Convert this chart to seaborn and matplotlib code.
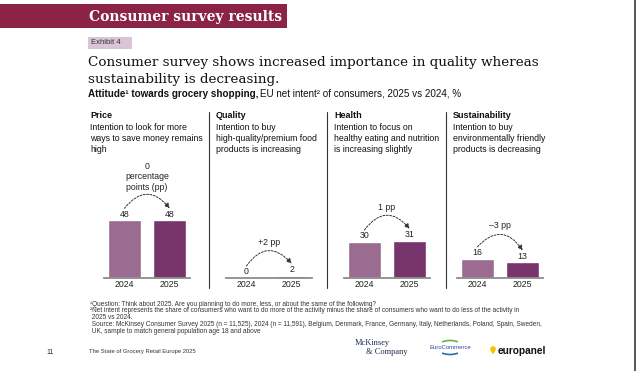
import matplotlib.pyplot as plt
import seaborn as sns
import pandas as pd
from matplotlib.patches import Rectangle, Arc, Circle, Polygon

# -----------------------------
# Data
# -----------------------------
categories = ["Price", "Quality", "Health", "Sustainability"]
descriptions = [
    ["Intention to look for more", "ways to save money remains", "high"],
    ["Intention to buy", "high-quality/premium food", "products is increasing"],
    ["Intention to focus on", "healthy eating and nutrition", "is increasing slightly"],
    ["Intention to buy", "environmentally friendly", "products is decreasing"],
]
years = ["2024", "2025"]
intent_2024 = [48, 0, 30, 16]
intent_2025 = [48, 2, 31, 13]
change_labels = ["0\npercentage\npoints (pp)", "+2 pp", "1 pp", "\u20133 pp"]

footnotes = [
    "\u00b9Question: Think about 2025. Are you planning to do more, less, or about the same of the following?",
    "\u00b2Net intent represents the share of consumers who want to do more of the activity minus the share of consumers who want to do less of the activity in",
    " 2025 vs 2024.",
    " Source: McKinsey Consumer Survey 2025 (n = 11,525), 2024 (n = 11,591), Belgium, Denmark, France, Germany, Italy, Netherlands, Poland, Spain, Sweden,",
    " UK, sample to match general population age 18 and above",
]

bar_colors = {"2024": "#9B6B92", "2025": "#77346D"}

# -----------------------------
# Figure setup
# -----------------------------
sns.set_style("white")
plt.rcParams["font.family"] = ["Liberation Sans", "DejaVu Sans"]

W, H = 640, 371
fig = plt.figure(figsize=(6.4, 3.71), dpi=100)

bg = fig.add_axes([0, 0, 1, 1])
bg.set_xlim(0, W)
bg.set_ylim(H, 0)
bg.axis("off")


def px_axes(left, top, width, height):
    return fig.add_axes([left / W, 1 - (top + height) / H, width / W, height / H])


# -----------------------------
# Header
# -----------------------------
bg.add_patch(Rectangle((0, 4), 287, 24, color="#8B2346", lw=0))
bg.text(89, 16.5, "Consumer survey results", color="white", fontweight="bold",
        family="DejaVu Serif", fontsize=10, va="center")

bg.add_patch(Rectangle((88, 36.5), 44, 12.5, color="#D9C5D6", lw=0))
bg.text(91, 42.8, "Exhibit 4", fontsize=5.5, va="center", color="#333333")

bg.text(88, 62.7, "Consumer survey shows increased importance in quality whereas",
        family="DejaVu Serif", fontsize=9.7, va="center", color="#111111")
bg.text(88, 79.3, "sustainability is decreasing.",
        family="DejaVu Serif", fontsize=9.7, va="center", color="#111111")

sub_bold = bg.text(88, 93.7, "Attitude\u00b9 towards grocery shopping,", fontweight="bold",
                   fontsize=7.1, va="center", color="#111111")
renderer = fig.canvas.get_renderer()
bb = sub_bold.get_window_extent(renderer=renderer)
x_after = bb.x1 / fig.dpi * 100
bg.text(x_after + 2, 93.7, "EU net intent\u00b2 of consumers, 2025 vs 2024, %",
        fontsize=7.1, va="center", color="#111111")

# -----------------------------
# Panels
# -----------------------------
text_left = [90, 216, 334, 452.7]
panel_left = [104, 226, 344, 457]

for i, cat in enumerate(categories):
    bg.text(text_left[i], 116, cat, fontweight="bold", fontsize=6.5, va="center", color="#111111")
    for k, line in enumerate(descriptions[i]):
        bg.text(text_left[i], 127.3 + 11.2 * k, line, fontsize=6.3, va="center", color="#111111")

    ax = px_axes(panel_left[i], 158, 86, 120)
    df = pd.DataFrame({"year": years, "intent": [intent_2024[i], intent_2025[i]]})

    sns.barplot(data=df, x="year", y="intent", hue="year", palette=bar_colors,
                width=0.73, saturation=1, legend=False, ax=ax)

    ax.set_xlim(-0.45, 1.45)
    ax.set_ylim(0, 100)
    ax.patch.set_alpha(0)
    sns.despine(ax=ax, left=True)
    ax.spines["bottom"].set_color("#8C8C8C")
    ax.spines["bottom"].set_linewidth(1.3)
    ax.set_yticks([])
    ax.set_xlabel("")
    ax.set_ylabel("")
    ax.tick_params(axis="x", length=0, pad=1.5, labelsize=6.3, labelcolor="#222222")

    v1, v2 = intent_2024[i], intent_2025[i]
    for j, v in enumerate([v1, v2]):
        ax.text(j, v + 1.5, f"{v}", ha="center", va="bottom", fontsize=6.3, color="#222222")

    ax.annotate("", xy=(1, v2 + 10), xytext=(0, v1 + 10),
                arrowprops=dict(arrowstyle="-|>,head_length=0.3,head_width=0.15",
                                connectionstyle="arc3,rad=-0.62",
                                linestyle=(0, (2, 1.5)), lw=0.7, color="#333333",
                                shrinkA=0, shrinkB=0))
    ax.text(0.5, max(v1, v2) + 24, change_labels[i], ha="center", va="bottom",
            fontsize=6.3, linespacing=1.2, color="#222222")

for x in [209.3, 327, 445.5]:
    bg.plot([x, x], [112, 287.5], color="#333333", lw=0.8)

# -----------------------------
# Footnotes and footer
# -----------------------------
for k, line in enumerate(footnotes):
    bg.text(90, 304 + 6.9 * k, line, fontsize=4.7, va="center", color="#333333")

bg.text(46.7, 353, "11", fontsize=5, va="center", color="#333333")
bg.text(89, 352, "The State of Grocery Retail Europe 2025", fontsize=4.25, va="center", color="#333333")

# McKinsey
bg.text(355, 343, "McKinsey", family="Liberation Serif", fontsize=6, va="center", color="#1F2A55")
bg.text(366, 352, "& Company", family="Liberation Serif", fontsize=6, va="center", color="#1F2A55")

# EuroCommerce
bg.add_patch(Arc((450, 347.5), 26, 14, theta1=215, theta2=325, color="#6DB33F", lw=1.2))
bg.add_patch(Arc((450, 347.5), 26, 14, theta1=35, theta2=145, color="#2B6CB0", lw=1.2))
bg.text(450, 347.7, "EuroCommerce", fontsize=4.3, ha="center", va="center", color="#2B4B9B")

# europanel
bg.add_patch(Circle((493, 349), 2.8, color="#F5C400", lw=0))
bg.add_patch(Polygon([[490.6, 350.5], [495.4, 350.5], [493, 354.5]], color="#F5C400", lw=0))
bg.text(498, 350.7, "europanel", fontweight="bold", fontsize=7.3, va="center", color="#111111")

# page border
bg.plot([635, 635], [0, H], color="#3A3A3A", lw=1.2)

fig.savefig("out.png", dpi=100)
